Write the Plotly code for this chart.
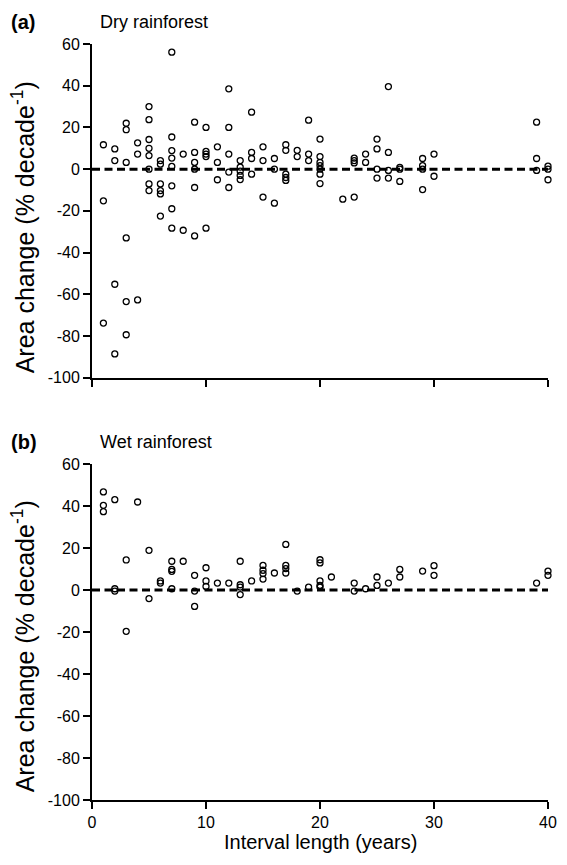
import plotly.graph_objects as go

# Panel (a): Dry rainforest
dry_years = [1, 1, 1,
             2, 2, 2, 2,
             3, 3, 3, 3, 3, 3,
             4, 4, 4,
             5, 5, 5, 5, 5, 5, 5, 5,
             6, 6, 6, 6, 6, 6,
             7, 7, 7, 7, 7, 7, 7, 7,
             8, 8,
             9, 9, 9, 9, 9, 9,
             10, 10, 10, 10, 10,
             11, 11, 11,
             12, 12, 12, 12, 12,
             13, 13, 13, 13, 13,
             14, 14, 14, 14,
             15, 15, 15,
             16, 16, 16,
             17, 17, 17, 17, 17,
             18, 18,
             19, 19, 19,
             20, 20, 20, 20, 20, 20, 20,
             22,
             23, 23, 23, 23,
             24, 24,
             25, 25, 25, 25,
             26, 26, 26, 26,
             27, 27, 27,
             29, 29, 29, 29,
             30, 30,
             39, 39, 39,
             40, 40, 40]
dry_change = [11.7, -15.2, -73.8,
              9.7, 4.1, -55.2, -88.6,
              22.0, 18.9, 3.2, -33.0, -63.5, -79.4,
              12.6, 7.2, -62.7,
              30.0, 23.7, 14.2, 10.0, 6.5, 0.0, -7.1, -10.3,
              4.1, 2.4, -7.1, -10.3, -11.9, -22.5,
              56.1, 15.4, 8.9, 5.3, 1.3, -8.0, -19.0, -28.3,
              7.2, -29.3,
              22.5, 8.0, 3.2, 0.0, -8.8, -32.0,
              20.0, 8.5, 7.2, 6.0, -28.3,
              10.7, 3.2, -5.1,
              38.5, 20.0, 7.2, -1.4, -8.8,
              4.1, 1.0, -1.0, -3.0, -5.0,
              27.3, 8.0, 5.1, -2.4,
              10.7, 4.1, -13.4,
              5.1, 0.0, -16.3,
              11.7, 9.0, -2.4, -4.0, -5.4,
              9.0, 6.0,
              23.5, 7.2, 4.1,
              14.4, 6.0, 3.2, 1.7, 0.0, -2.4, -6.9,
              -14.4,
              5.3, 4.1, 3.0, -13.4,
              7.2, 3.2,
              14.4, 9.7, 0.0, -4.3,
              39.6, 8.0, -0.6, -4.3,
              0.0, 0.8, -5.9,
              5.1, 1.7, 0.0, -9.8,
              7.2, -3.4,
              22.5, 5.1, -0.6,
              1.4, 0.0, -5.1]

# Panel (b): Wet rainforest
wet_years = [1, 1, 1,
             2, 2, 2,
             3, 3,
             4,
             5, 5,
             6, 6,
             7, 7, 7, 7,
             8,
             9, 9, 9,
             10, 10, 10,
             11,
             12,
             13, 13, 13, 13,
             14,
             15, 15, 15, 15,
             16,
             17, 17, 17, 17,
             18,
             19,
             20, 20, 20, 20, 20,
             21,
             23, 23,
             24,
             25, 25,
             26,
             27, 27,
             29,
             30, 30,
             39,
             40, 40]
wet_change = [46.7, 40.3, 37.3,
              43.0, 0.6, -0.5,
              14.3, -19.7,
              41.9,
              18.9, -4.1,
              4.3, 3.3,
              13.7, 9.8, 8.9, 0.6,
              13.7,
              7.0, -0.5, -7.8,
              10.6, 4.3, 1.7,
              3.3,
              3.3,
              13.7, 2.5, 1.4, -2.2,
              4.3,
              11.7, 9.4, 7.8, 5.2,
              8.1,
              21.7, 11.7, 10.2, 8.1,
              -0.5,
              1.4,
              14.4, 12.9, 4.3, 2.2, 1.4,
              6.2,
              3.3, -0.5,
              0.6,
              6.2, 2.2,
              3.3,
              9.8, 6.2,
              9.0,
              11.6, 7.0,
              3.3,
              9.0, 7.0]

x_ticks = [0, 10, 20, 30, 40]
y_ticks = [-100, -80, -60, -40, -20, 0, 20, 40, 60]
y_tick_labels = ["-100", "-80", "-60", "-40", "-20", "0", "20", "40", "60"]
panel_labels = ["(a)", "(b)"]
panel_titles = ["Dry rainforest", "Wet rainforest"]
y_title = "Area change (% decade<sup>-1</sup>)"
x_title = "Interval length (years)"

FONT = "Liberation Sans, Arial, Helvetica, sans-serif"
W, H = 567, 865
ML, MR, MT, MB = 92, 10, 44, 65
PW = W - ML - MR
PH = H - MT - MB


def py(ypx):
    return (H - MB - ypx) / PH


def px(xpx):
    return (xpx - ML) / PW


marker = dict(symbol="circle-open", size=6, color="black", line=dict(width=1.3, color="black"))

fig = go.Figure()
fig.add_trace(go.Scatter(x=dry_years, y=dry_change, mode="markers", marker=marker,
                         xaxis="x", yaxis="y", cliponaxis=False, showlegend=False))
fig.add_trace(go.Scatter(x=wet_years, y=wet_change, mode="markers", marker=marker,
                         xaxis="x2", yaxis="y2", cliponaxis=False, showlegend=False))

axis_common = dict(showline=True, linewidth=2, linecolor="black", ticks="outside",
                   ticklen=7, tickwidth=2, tickcolor="black", showgrid=False, zeroline=False,
                   tickfont=dict(family=FONT, size=16, color="black"))

fig.update_layout(
    width=W, height=H,
    margin=dict(l=ML, r=MR, t=MT, b=MB),
    paper_bgcolor="white", plot_bgcolor="white",
    xaxis=dict(domain=[0, 1], range=[0, 40], tickvals=x_ticks, showticklabels=False,
               anchor="y", **axis_common),
    yaxis=dict(domain=[py(377.7), 1], range=[-100, 60], tickvals=y_ticks,
               ticktext=y_tick_labels, anchor="x", **axis_common),
    xaxis2=dict(domain=[0, 1], range=[0, 40], tickvals=x_ticks, anchor="y2", **axis_common),
    yaxis2=dict(domain=[0, py(464)], range=[-100, 60], tickvals=y_ticks,
                ticktext=y_tick_labels, anchor="x2", **axis_common),
)

for yref, xref in (("y", "x"), ("y2", "x2")):
    fig.add_shape(type="line", xref=xref + " domain", yref=yref, x0=0, x1=1, y0=0, y1=0,
                  line=dict(color="black", width=3, dash="8px,4.5px"), layer="below")

anns = []
for lab, title, yc in zip(panel_labels, panel_titles, (21.5, 442)):
    anns.append(dict(text="<b>%s</b>" % lab, x=px(7), y=py(yc), xref="paper", yref="paper",
                     xanchor="left", yanchor="middle", showarrow=False,
                     font=dict(family=FONT, size=20, color="black")))
    anns.append(dict(text=title, x=px(98), y=py(yc), xref="paper", yref="paper",
                     xanchor="left", yanchor="middle", showarrow=False,
                     font=dict(family=FONT, size=18, color="black")))
for yc in (227, 646):
    anns.append(dict(text=y_title, x=px(22), y=py(yc), xref="paper", yref="paper",
                     xanchor="center", yanchor="middle", textangle=-90, showarrow=False,
                     font=dict(family=FONT, size=25, color="black")))
anns.append(dict(text=x_title, x=0.5, y=py(842), xref="paper", yref="paper",
                 xanchor="center", yanchor="middle", showarrow=False,
                 font=dict(family=FONT, size=20, color="black")))
fig.update_layout(annotations=anns)

fig.write_html("out.html", config={"displayModeBar": False},
               post_script="document.body.style.margin='0';document.body.style.overflow='hidden';")
